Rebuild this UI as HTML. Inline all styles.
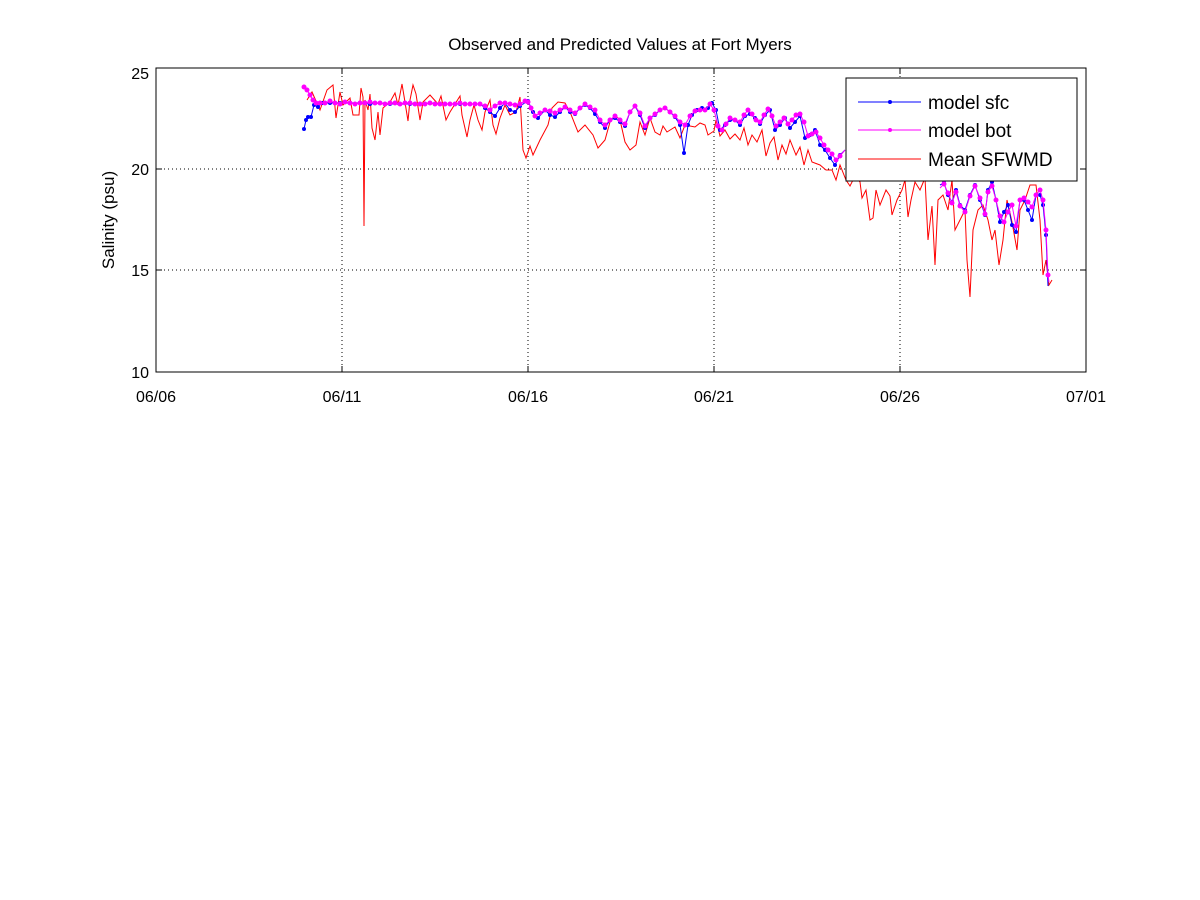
<!DOCTYPE html>
<html><head><meta charset="utf-8"><style>
body{margin:0;background:#fff;}
svg{display:block;font-family:"Liberation Sans",sans-serif;}
</style></head><body>
<svg width="1200" height="900" viewBox="0 0 1200 900">
<defs>
<marker id="mb" markerWidth="4" markerHeight="4" refX="2" refY="2" markerUnits="userSpaceOnUse"><circle cx="2" cy="2" r="2" fill="#0000ff"/></marker>
<marker id="mm" markerWidth="5" markerHeight="5" refX="2.5" refY="2.5" markerUnits="userSpaceOnUse"><circle cx="2.5" cy="2.5" r="2.5" fill="#ff00ff"/></marker>
</defs>
<rect x="156" y="68" width="930" height="304" fill="#fff" stroke="#000" stroke-width="1"/>
<g stroke="#000" stroke-width="1" stroke-dasharray="1,3">
<line x1="342" y1="68" x2="342" y2="372"/><line x1="528" y1="68" x2="528" y2="372"/>
<line x1="714" y1="68" x2="714" y2="372"/><line x1="900" y1="68" x2="900" y2="372"/>
<line x1="156" y1="169" x2="1086" y2="169"/><line x1="156" y1="270" x2="1086" y2="270"/>
</g>
<g stroke="#000"><line x1="342" y1="68" x2="342" y2="74"/><line x1="528" y1="68" x2="528" y2="74"/><line x1="714" y1="68" x2="714" y2="74"/><line x1="900" y1="68" x2="900" y2="74"/>
<line x1="342" y1="372" x2="342" y2="366"/><line x1="528" y1="372" x2="528" y2="366"/><line x1="714" y1="372" x2="714" y2="366"/><line x1="900" y1="372" x2="900" y2="366"/>
<line x1="156" y1="169" x2="162" y2="169"/><line x1="156" y1="270" x2="162" y2="270"/><line x1="1086" y1="169" x2="1080" y2="169"/><line x1="1086" y1="270" x2="1080" y2="270"/></g>
<!-- red -->
<polyline fill="none" stroke="#ff0000" stroke-width="1" points="307,100 312,92 320,110 327,90 333,85 336,118 340,92 343,105 350,98 353,115 359,115 361,88 363,97 364,226 365,100 368,110 370,94 372,128 375,140 378,112 380,135 383,108 390,102 395,93 398,105 402,84 404,96 408,121 410,100 413,85 416,94 420,120 423,102 430,95 438,104 441,96 446,120 450,112 455,104 460,96 462,115 467,137 470,120 474,105 478,120 482,130 485,112 490,100 493,125 496,134 500,118 505,105 510,115 516,112 520,97 523,150 526,158 530,146 533,155 540,140 548,125 552,108 558,102 565,103 570,112 578,132 585,125 593,135 598,148 605,140 610,122 615,115 620,120 625,142 630,150 636,145 640,122 645,135 650,118 655,132 660,135 663,126 667,132 675,127 680,138 685,125 690,126 695,127 700,123 705,125 708,135 714,131 716,120 720,136 725,130 730,139 735,134 740,140 744,128 748,145 752,135 757,142 762,130 766,156 770,143 774,137 778,160 782,145 786,154 790,140 796,155 800,147 804,165 808,150 812,162 820,165 826,170 832,170 836,180 840,165 846,180 850,186 855,176 860,182 862,198 866,190 870,220 873,218 876,190 880,205 886,190 890,196 892,215 897,200 902,190 905,180 908,217 911,200 915,182 920,190 925,178 928,240 932,206 935,265 938,200 943,195 948,210 952,180 955,230 960,220 965,210 967,260 970,297 973,230 978,210 983,205 988,220 992,240 995,230 999,265 1003,240 1007,200 1012,222 1017,250 1020,210 1025,200 1030,185 1036,185 1040,220 1043,275 1046,260 1049,285 1052,280"/>
<!-- sfc blue -->
<polyline fill="none" stroke="#0000ff" stroke-width="1" marker-mid="url(#mb)" marker-start="url(#mb)" points="304,129 306,120 308,117 311,117 314,105 318,107 322,103 330,103 340,103 350,103 360,103 370,104 380,103 390,104 400,104 410,104 420,104 430,103 440,104 450,104 460,104 470,104 480,104 485,108 490,112 495,116 500,108 505,103 510,110 515,112 520,106 528,101 533,112 538,118 545,110 550,115 555,117 560,112 565,107 570,112 575,114 580,108 585,105 590,108 595,114 600,122 605,128 610,120 615,118 620,122 625,126 630,112 635,106 640,115 645,128 650,118 655,115 660,110 665,108 670,112 675,117 680,125 684,153 688,125 692,115 697,110 702,108 708,108 712,103 716,110 720,130 725,125 730,120 735,120 740,125 745,116 750,114 755,118 760,124 765,115 770,110 775,130 780,125 785,118 790,128 795,122 800,116 805,138 810,135 815,130 820,145 825,150 830,158 835,165 840,155 845,150"/>
<polyline fill="none" stroke="#0000ff" stroke-width="1" marker-mid="url(#mb)" points="940,185 944,183 948,195 952,202 956,190 960,205 965,210 970,195 975,185 980,200 985,215 988,190 992,182 996,200 1000,222 1004,212 1008,205 1012,225 1016,232 1020,200 1024,200 1028,210 1032,220 1036,195 1040,195 1043,205 1046,235 1048,286"/>
<!-- bot magenta -->
<polyline fill="none" stroke="#ff00ff" stroke-width="1" marker-mid="url(#mm)" marker-start="url(#mm)" points="304,87 307,90 310,95 313,100 316,103 320,103 325,103 330,101 335,103 340,104 345,102 350,103 355,104 360,103 365,103 370,102 375,103 380,103 385,104 390,103 395,103 400,104 405,103 410,103 415,104 420,104 425,104 430,103 435,104 440,104 445,104 450,104 455,104 460,103 465,104 470,104 475,104 480,104 485,106 490,110 495,106 500,103 505,103 510,104 515,105 520,104 525,101 528,102 531,108 535,116 540,113 545,110 550,111 555,113 560,110 565,107 570,110 575,113 580,108 585,104 590,107 595,110 600,120 605,125 610,120 615,116 620,120 625,124 630,112 635,106 640,113 645,126 650,118 655,114 660,110 665,108 670,112 675,116 680,122 685,125 690,116 695,111 700,110 705,110 710,104 714,110 718,126 722,130 726,124 730,118 735,120 740,122 744,115 748,110 752,114 756,120 760,122 764,115 768,109 772,116 776,126 780,122 784,118 788,124 792,120 796,115 800,114 804,122 808,136 812,134 816,132 820,138 824,145 828,150 832,154 836,160 840,156 845,150"/>
<polyline fill="none" stroke="#ff00ff" stroke-width="1" marker-mid="url(#mm)" points="940,188 944,184 948,193 952,203 956,192 960,206 965,212 970,196 975,186 980,198 985,214 988,192 992,186 996,200 1000,216 1004,222 1008,212 1012,205 1016,226 1020,200 1024,198 1028,202 1032,207 1036,195 1040,190 1043,200 1046,230 1048,275 1049,282"/>
<!-- legend -->
<rect x="846" y="78" width="231" height="103" fill="#fff" stroke="#000"/>
<line x1="858" y1="102" x2="921" y2="102" stroke="#0000ff"/><circle cx="890" cy="102" r="2" fill="#0000ff"/>
<line x1="858" y1="130" x2="921" y2="130" stroke="#ff00ff"/><circle cx="890" cy="130" r="2" fill="#ff00ff"/>
<line x1="858" y1="159" x2="921" y2="159" stroke="#ff0000"/>
<g font-size="19" fill="#000"><text x="928" y="109">model sfc</text><text x="928" y="137">model bot</text><text x="928" y="166">Mean SFWMD</text></g>
<!-- ticks labels -->
<g font-size="16" fill="#000" text-anchor="end"><text x="149" y="79">25</text><text x="149" y="175">20</text><text x="149" y="276">15</text><text x="149" y="378">10</text></g>
<g font-size="16" fill="#000" text-anchor="middle"><text x="156" y="402">06/06</text><text x="342" y="402">06/11</text><text x="528" y="402">06/16</text><text x="714" y="402">06/21</text><text x="900" y="402">06/26</text><text x="1086" y="402">07/01</text></g>
<text x="620" y="50" font-size="17" text-anchor="middle">Observed and Predicted Values at Fort Myers</text>
<text transform="translate(114,220) rotate(-90)" font-size="17" text-anchor="middle">Salinity (psu)</text>
</svg>
</body></html>
